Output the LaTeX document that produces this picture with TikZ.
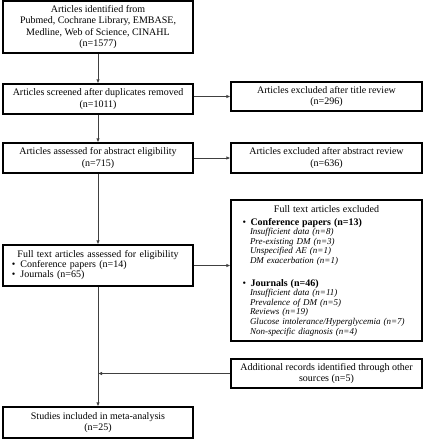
\documentclass[tikz,border=0pt]{standalone}
\usepackage{fontspec}
\setmainfont{Liberation Serif}
\usetikzlibrary{arrows.meta}
\begin{document}
\begin{tikzpicture}[x=1pt,y=-1pt,
  box/.style={draw=black, line width=1.3pt, rectangle, inner sep=1pt, align=center,
    font=\fontsize{10}{11.5}\selectfont},
  lbox/.style={box, minimum width=190pt},
  rbox/.style={box, minimum width=191pt},
  conn/.style={draw=black!75, line width=0.8pt},
  arr/.style={conn, -{Latex[length=4pt,width=3.5pt]}}]
\useasboundingbox[fill=white] (0,0) rectangle (424,440);
\node[lbox, minimum height=52pt] (b1) at (98,27) {Articles identified from\\Pubmed, Cochrane Library, EMBASE,\\Medline, Web of Science, CINAHL\\(n=1577)};
\node[lbox, minimum height=30pt] (b2) at (98,99) {Articles screened after duplicates removed\\(n=1011)};
\node[lbox, minimum height=30pt] (b3) at (98,158) {Articles assessed for abstract eligibility\\(n=715)};
\node[lbox, minimum height=41pt, text width=172pt, align=left, font=\fontsize{10}{10}\selectfont] (b4) at (98,265.5) {\makebox[\linewidth][c]{Full text articles assessed for eligibility}\\
\textbullet\hspace{0.5em}Conference papers (n=14)\\
\textbullet\hspace{0.5em}Journals (n=65)};
\node[lbox, minimum height=31pt] (b5) at (98,422.5) {Studies included in meta-analysis\\(n=25)};
\node[rbox, minimum height=29pt] (r1) at (326.5,96.5) {Articles excluded after title review\\(n=296)};
\node[rbox, minimum height=30pt] (r2) at (326.5,158) {Articles excluded after abstract review\\(n=636)};
\node[rbox, minimum height=141pt, text width=176pt, align=left, font=\fontsize{9}{9.6}\selectfont] (r3) at (326.5,270.5) {\makebox[\linewidth][c]{\fontsize{10}{9.6}\selectfont Full text articles excluded}\\[3.4pt]
\hspace*{4pt}{\fontsize{10}{9.6}\selectfont\textbullet\hspace{0.45em}\textbf{Conference papers (n=13)}}\\
\hspace*{11.5pt}\textit{Insufficient data (n=8)}\\
\hspace*{11.5pt}\textit{Pre-existing DM (n=3)}\\
\hspace*{11.5pt}\textit{Unspecified AE (n=1)}\\
\hspace*{11.5pt}\textit{DM exacerbation (n=1)}\\[13pt]
\hspace*{4pt}{\fontsize{10}{9.6}\selectfont\textbullet\hspace{0.45em}\textbf{Journals (n=46)}}\\
\hspace*{11.5pt}\textit{Insufficient data (n=11)}\\
\hspace*{11.5pt}\textit{Prevalence of DM (n=5)}\\
\hspace*{11.5pt}\textit{Reviews (n=19)}\\
\hspace*{11.5pt}\textit{Glucose intolerance/Hyperglycemia (n=7)}\\
\hspace*{11.5pt}\textit{Non-specific diagnosis (n=4)}};
\node[rbox, minimum height=29pt] (r4) at (326.5,373.5) {Additional records identified through other\\sources (n=5)};
\coordinate (j) at (b4.south |- r4.west);
\draw[arr] (b1) -- (b2);
\draw[arr] (b2) -- (b3);
\draw[arr] (b3) -- (b4);
\draw[arr] (b4) -- (b5);
\draw[arr] (b2.east |- r1.west) -- (r1.west);
\draw[arr] (b3.east) -- (b3.east -| r2.west);
\draw[arr] (b4.east) -- (b4.east -| r3.west);
\draw[arr] (r4.west) -- (j);
\end{tikzpicture}
\end{document}
